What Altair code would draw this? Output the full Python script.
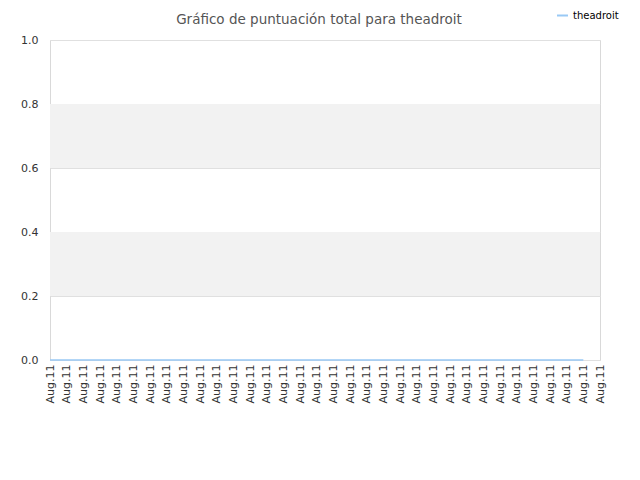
import altair as alt
import pandas as pd

# Data
labels = ["Aug.11"] * 34
scores = [0] * 33
series_name = "theadroit"
band_lo = [0.2, 0.6]
band_hi = [0.4, 0.8]

cats = list(range(len(labels)))
line_df = pd.DataFrame({"i": cats[:len(scores)], "score": scores, "serie": series_name})
band_df = pd.DataFrame({"lo": band_lo, "hi": band_hi})
label_expr = "['" + "','".join(labels) + "'][datum.value]"

W, H = 550, 320

xscale = alt.Scale(type="point", domain=cats, padding=0)
yscale = alt.Scale(domain=[0, 1])

bands = alt.Chart(band_df).mark_rect(color="#f2f2f2").encode(
    y=alt.Y("lo:Q", scale=yscale),
    y2="hi:Q",
    x=alt.value(0),
    x2=alt.value(W),
)

line = alt.Chart(line_df).mark_line(strokeWidth=1.5).encode(
    x=alt.X("i:O", scale=xscale, sort=cats,
            axis=alt.Axis(title=None, labelAngle=-90, labelExpr=label_expr,
                          labelFontSize=11, labelColor="#333333", labelFont="DejaVu Sans",
                          domain=False, ticks=False, grid=False, labelPadding=4)),
    y=alt.Y("score:Q", scale=yscale,
            axis=alt.Axis(title=None, values=[0, 0.2, 0.4, 0.6, 0.8, 1.0], format=".1f",
                          labelFontSize=11, labelColor="#333333", labelFont="DejaVu Sans",
                          domain=False, ticks=False, grid=True, gridColor="#e0e0e0",
                          labelPadding=12)),
    color=alt.Color("serie:N", scale=alt.Scale(domain=[series_name], range=["#99c9f5"]),
                    legend=alt.Legend(title=None, orient="none", legendX=506, legendY=-31,
                                      symbolType="stroke", symbolSize=120, symbolStrokeWidth=2,
                                      labelFontSize=10, labelColor="#000000",
                                      labelFont="DejaVu Sans")),
)

chart = alt.layer(bands, line).properties(
    width=W, height=H,
    title=alt.TitleParams("Gráfico de puntuación total para theadroit", fontSize=13.5,
                          font="DejaVu Sans", fontWeight="normal", color="#555555",
                          anchor="middle", offset=-17, dx=-6),
    autosize=alt.AutoSizeParams(type="none"),
    padding={"left": 42, "top": 32, "right": 30, "bottom": 100},
).configure_view(stroke="#d9d9d9", strokeWidth=1)

chart.save("out.html", embed_options={"renderer": "svg", "actions": False})
